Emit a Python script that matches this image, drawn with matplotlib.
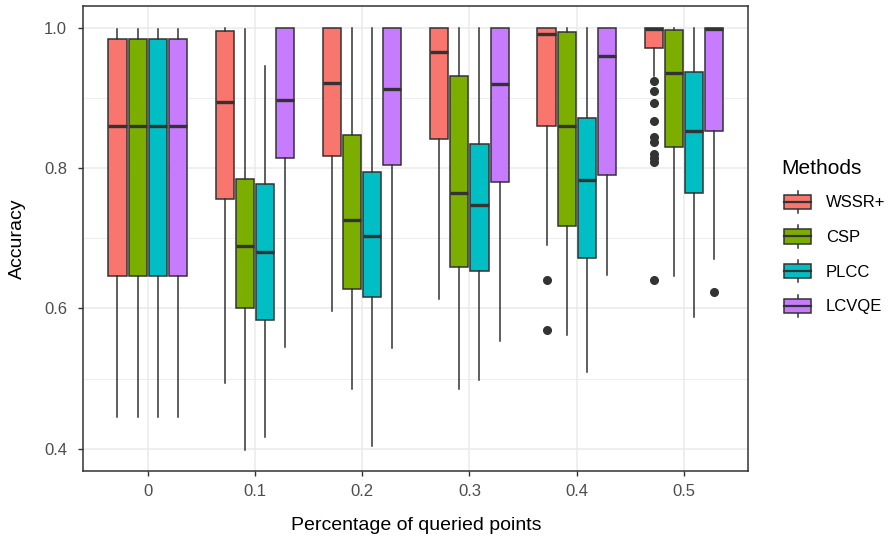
import matplotlib
matplotlib.use("Agg")
import matplotlib.pyplot as plt
from matplotlib.patches import Rectangle
from matplotlib.lines import Line2D
from matplotlib.legend_handler import HandlerBase

plt.rcParams['font.family'] = ['Liberation Sans', 'DejaVu Sans']

# percentage of queried points
percent = [0, 0.1, 0.2, 0.3, 0.4, 0.5]
methods = ['WSSR+', 'CSP', 'PLCC', 'LCVQE']
colors = ['#F8766D', '#7CAE00', '#00BFC4', '#C77CFF']

# box statistics (one value per percentage)
wssr_lo = [0.445, 0.493, 0.596, 0.613, 0.690, 0.931]
wssr_q1 = [0.646, 0.756, 0.817, 0.842, 0.860, 0.972]
wssr_med = [0.860, 0.895, 0.921, 0.966, 0.991, 0.999]
wssr_q3 = [0.985, 0.996, 1.0, 1.0, 1.0, 1.0]
wssr_hi = [0.998, 1.0, 1.0, 1.0, 1.0, 1.0]
wssr_out = [[], [], [], [], [0.641, 0.569],
            [0.925, 0.910, 0.893, 0.868, 0.844, 0.838, 0.820, 0.814, 0.809, 0.641]]

csp_lo = [0.445, 0.398, 0.485, 0.485, 0.562, 0.647]
csp_q1 = [0.646, 0.600, 0.628, 0.659, 0.718, 0.830]
csp_med = [0.860, 0.689, 0.726, 0.764, 0.860, 0.936]
csp_q3 = [0.985, 0.785, 0.847, 0.932, 0.994, 0.997]
csp_hi = [0.998, 0.998, 1.0, 1.0, 1.0, 1.0]
csp_out = [[], [], [], [], [], []]

plcc_lo = [0.445, 0.417, 0.404, 0.498, 0.509, 0.588]
plcc_q1 = [0.646, 0.583, 0.616, 0.653, 0.672, 0.765]
plcc_med = [0.860, 0.680, 0.704, 0.747, 0.783, 0.853]
plcc_q3 = [0.985, 0.778, 0.795, 0.834, 0.872, 0.938]
plcc_hi = [0.998, 0.946, 1.0, 1.0, 1.0, 1.0]
plcc_out = [[], [], [], [], [], []]

lcvqe_lo = [0.445, 0.545, 0.544, 0.554, 0.648, 0.670]
lcvqe_q1 = [0.646, 0.815, 0.805, 0.780, 0.791, 0.853]
lcvqe_med = [0.860, 0.897, 0.913, 0.920, 0.960, 0.998]
lcvqe_q3 = [0.985, 1.0, 1.0, 1.0, 1.0, 1.0]
lcvqe_hi = [0.998, 1.0, 1.0, 1.0, 1.0, 1.0]
lcvqe_out = [[], [], [], [], [], [0.624]]

series = [
    (wssr_lo, wssr_q1, wssr_med, wssr_q3, wssr_hi, wssr_out),
    (csp_lo, csp_q1, csp_med, csp_q3, csp_hi, csp_out),
    (plcc_lo, plcc_q1, plcc_med, plcc_q3, plcc_hi, plcc_out),
    (lcvqe_lo, lcvqe_q1, lcvqe_med, lcvqe_q3, lcvqe_hi, lcvqe_out),
]

edge = '#333333'
fig = plt.figure(figsize=(8.93, 5.43), dpi=100)
ax = fig.add_axes([83.3 / 893, 1 - 470.7 / 543, (748.3 - 83.3) / 893, (470.7 - 6.3) / 543])

slot = 0.075 / 4
for i, (lo, q1, med, q3, hi, out) in enumerate(series):
    stats = []
    for j in range(len(percent)):
        stats.append(dict(whislo=lo[j], q1=q1[j], med=med[j], q3=q3[j], whishi=hi[j], fliers=out[j]))
    pos = [p + (i - 1.5) * slot for p in percent]
    ax.bxp(stats, positions=pos, widths=slot * 0.9, patch_artist=True, showcaps=False,
           manage_ticks=False,
           boxprops=dict(facecolor=colors[i], edgecolor=edge, linewidth=1.1),
           medianprops=dict(color=edge, linewidth=2.4, solid_capstyle='butt'),
           whiskerprops=dict(color=edge, linewidth=1.1),
           flierprops=dict(marker='o', markerfacecolor=edge, markeredgecolor=edge, markersize=5.5))

ax.set_xlim(-0.06, 0.56)
ax.set_ylim(0.3686, 1.031)
ax.set_xticks(percent)
ax.set_xticklabels(['0', '0.1', '0.2', '0.3', '0.4', '0.5'])
ax.set_yticks([0.4, 0.6, 0.8, 1.0])
ax.set_yticklabels(['0.4', '0.6', '0.8', '1.0'])
ax.set_yticks([0.5, 0.7, 0.9], minor=True)
ax.grid(True, which='major', color='#EBEBEB', linewidth=1.1)
ax.grid(True, which='minor', axis='y', color='#EBEBEB', linewidth=0.6)
ax.set_axisbelow(True)
ax.tick_params(which='minor', length=0)
ax.tick_params(which='major', length=3.6, width=1, color=edge, labelsize=12, labelcolor='#4D4D4D')
ax.tick_params(axis='y', pad=8)
ax.tick_params(axis='x', pad=6)
for s in ax.spines.values():
    s.set_color(edge)
    s.set_linewidth(1.1)

ax.set_xlabel('Percentage of queried points', fontsize=14, labelpad=13)
ax.set_ylabel('Accuracy', fontsize=14, labelpad=13)


class BoxKey(HandlerBase):
    def create_artists(self, legend, orig_handle, xdescent, ydescent, width, height, fontsize, trans):
        x0, y0 = -xdescent + 2.5, -ydescent
        cx = x0 + width / 2
        b0 = y0 + height * 0.18
        b1 = y0 + height * 0.82
        arts = [
            Line2D([cx, cx], [y0, b0], color=edge, lw=1.1),
            Line2D([cx, cx], [b1, y0 + height], color=edge, lw=1.1),
            Rectangle((x0, b0), width, b1 - b0, facecolor=orig_handle.get_facecolor(),
                      edgecolor=edge, lw=1.1),
            Line2D([x0, x0 + width], [(b0 + b1) / 2] * 2, color=edge, lw=1.6),
        ]
        for a in arts:
            a.set_transform(trans)
        return arts


handles = [Rectangle((0, 0), 1, 1, facecolor=c) for c in colors]
leg = fig.legend(handles, methods, handler_map={Rectangle: BoxKey()},
                 loc='upper left', bbox_to_anchor=(781 / 893, 1 - 159 / 543),
                 frameon=False, fontsize=12, title='Methods', title_fontsize=15,
                 alignment='left', handlelength=1.62, handleheight=1.68,
                 labelspacing=0.75, handletextpad=1.08, borderpad=0, borderaxespad=0)

fig.savefig('out.png', dpi=100)
